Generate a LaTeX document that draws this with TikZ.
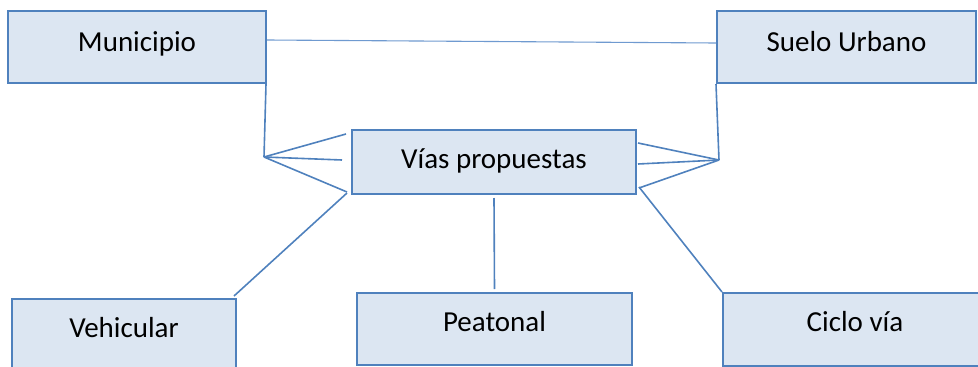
\documentclass[tikz,border=0pt]{standalone}
\usepackage{fontspec}
\setmainfont{Carlito}
\definecolor{boxline}{HTML}{4F81BD}
\definecolor{boxfill}{HTML}{DCE6F2}
\definecolor{thinline}{HTML}{6F9AD0}
\begin{document}
\begin{tikzpicture}[x=1pt,y=-1pt,
  entity/.style={draw=boxline, fill=boxfill, line width=2pt, rectangle, inner sep=0pt,
    font=\fontsize{29}{34}\selectfont, text depth=16pt, text height=20pt},
  link/.style={draw=boxline, line width=1.6pt}]
\useasboundingbox (0,0) rectangle (978,367);
\clip (0,0) rectangle (978,367);
\node[entity, minimum width=258pt, minimum height=72pt, text depth=12pt] (muni) at (137,47) {Municipio};
\node[entity, minimum width=259pt, minimum height=72pt, text depth=12pt] (suelo) at (846.5,47) {Suelo Urbano};
\node[entity, minimum width=284pt, minimum height=64pt, text depth=8pt] (vias) at (494,162) {Vías propuestas};
\node[entity, minimum width=224pt, minimum height=72pt] (veh) at (124,335) {Vehicular};
\node[entity, minimum width=275pt, minimum height=72pt] (peat) at (494.5,329) {Peatonal};
\node[entity, minimum width=264pt, minimum height=73pt] (ciclo) at (855,329.5) {Ciclo vía};
\coordinate (lf) at (264,157);
\coordinate (rf) at (719,160);
\draw[draw=thinline, line width=1.1pt] ([yshift=7pt]muni.east) -- ([yshift=4pt]suelo.west);
\draw[link] ([xshift=-1pt]muni.south east) -- (lf);
\draw[link] (lf) -- ([xshift=-5pt,yshift=28pt]vias.west);
\draw[link] (lf) -- ([xshift=-9pt,yshift=2pt]vias.west);
\draw[link] (lf) -- ([xshift=-4pt,yshift=3pt]vias.south west);
\draw[link] (suelo.south west) -- (rf);
\draw[link] (rf) -- ([xshift=1pt,yshift=19pt]vias.east);
\draw[link] (rf) -- ([xshift=1pt,yshift=-2pt]vias.east);
\draw[link] (rf) -- ([xshift=2pt,yshift=-26pt]vias.east);
\draw[link] ([xshift=-4pt,yshift=2pt]vias.south west) -- ([xshift=-3pt,yshift=2pt]veh.north east);
\draw[link] ([yshift=-3pt]vias.south) -- ([yshift=3pt]peat.north);
\draw[link] ([xshift=2pt,yshift=8pt]vias.south east) -- (ciclo.north west);
\end{tikzpicture}
\end{document}
